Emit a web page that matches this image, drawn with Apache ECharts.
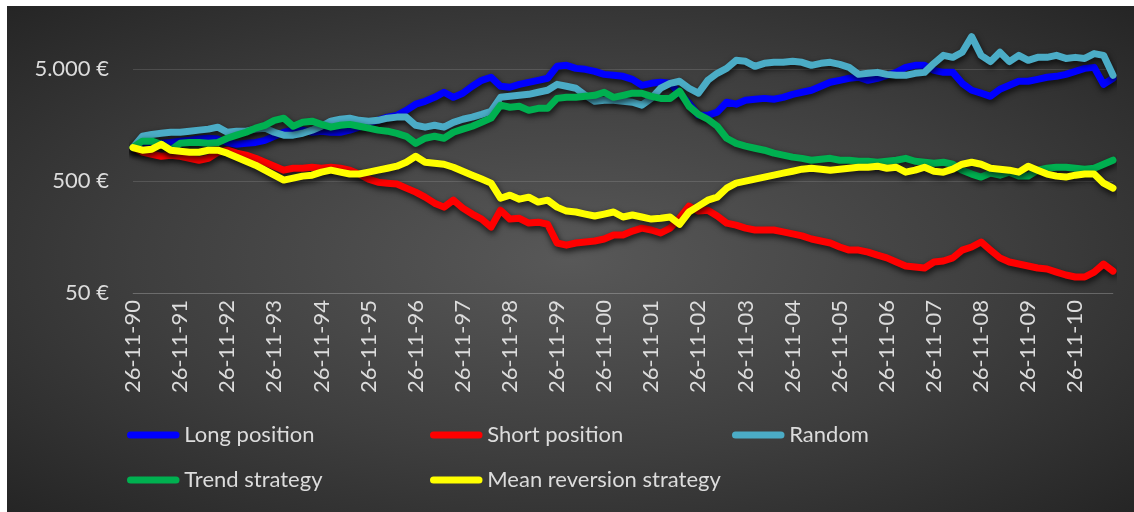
<!DOCTYPE html>
<html>
<head>
<meta charset="utf-8">
<title>Strategies</title>
<script src="https://cdn.jsdelivr.net/npm/echarts@6/dist/echarts.min.js"></script>
<style>
  html, body { margin: 0; background: #fff; }
  #chart {
    position: absolute; left: 7px; top: 6px; width: 1127px; height: 506px;
    background: radial-gradient(ellipse farthest-corner at 50% 50%, #585858 0%, #3e3e3e 55%, #252525 100%);
  }
</style>
</head>
<body>
<div id="chart"></div>
<script>
// one point every 73 days, starting 26-11-90
const seriesNames = ['Long position', 'Short position', 'Random', 'Trend strategy', 'Mean reversion strategy'];
const seriesColors = ['#0000ff', '#ff0000', '#4bacc6', '#00b050', '#ffff00'];
const yTicks = [50, 500, 5000];

const longPos = [1000,1050,1070,1090,1110,1140,1160,1190,1210,1190,
  1110,1070,1090,1110,1160,1260,1370,1430,1430,1370,
  1400,1370,1370,1430,1520,1650,1750,1870,1940,2150,
  2440,2590,2810,3120,2810,3060,3530,3990,4250,3530,
  3460,3670,3830,3990,4160,5320,5430,5100,5000,4800,
  4510,4420,4330,4070,3600,3750,3830,3750,3060,2490,
  1940,1940,2070,2540,2440,2650,2700,2750,2700,2810,
  2990,3120,3250,3530,3830,3990,4160,4250,3990,4160,
  4420,4700,5210,5430,5430,4900,4700,4700,3750,3250,
  3060,2870,3320,3600,3910,3910,4070,4250,4330,4510,
  4800,5100,5210,3670,4160];

const shortPos = [1000,908,871,836,854,836,802,770,802,908,
  946,890,854,802,739,681,627,652,652,666,
  652,666,652,627,579,522,490,480,471,433,
  399,360,318,293,338,287,254,229,194,275,
  229,233,211,215,206,140,134,140,143,146,
  152,165,165,179,190,183,172,190,233,299,
  270,275,244,211,202,190,183,183,183,176,
  169,162,152,146,140,129,121,121,116,109,
  103,94.6,87.2,85.4,83.6,94.6,96.6,103,121,129,
  143,121,103,94.6,90.8,87.2,83.6,81.9,76.9,72.4,
  69.5,69.5,76.9,90.8,78.5];

const randomPos = [1000,1260,1310,1340,1370,1370,1400,1430,1460,1520,
  1370,1400,1400,1460,1490,1370,1290,1290,1340,1430,
  1550,1720,1790,1830,1750,1720,1750,1830,1870,1870,
  1580,1520,1580,1520,1680,1790,1870,1980,2110,2810,
  2870,2930,2990,3120,3250,3670,3530,3390,2930,2590,
  2650,2650,2590,2540,2390,2750,3390,3750,3910,3390,
  3060,3990,4610,5100,6020,5900,5320,5660,5780,5780,
  5900,5780,5430,5660,5780,5540,5210,4510,4610,4700,
  4510,4420,4420,4610,4700,5660,6670,6400,7110,9800,
  6670,5860,7110,5860,6670,6020,6400,6400,6670,6260,
  6400,6260,6920,6670,4420];

const trend = [1000,1140,1140,1070,950,1090,1110,1110,1090,1110,
  1210,1290,1370,1490,1580,1750,1830,1550,1680,1720,
  1610,1520,1580,1610,1550,1490,1430,1400,1340,1260,
  1090,1210,1260,1210,1370,1460,1550,1680,1830,2390,
  2290,2340,2150,2240,2240,2750,2810,2810,2870,2930,
  3120,2810,2930,3060,3060,2870,2750,2750,3190,2340,
  1980,1790,1550,1210,1090,1030,985,946,890,854,
  820,800,770,785,800,770,770,754,754,739,
  754,770,800,754,739,724,739,709,627,579,
  544,590,566,602,555,555,627,652,666,666,
  652,640,652,709,770];

const meanRev = [1000,946,966,1070,946,927,908,908,946,946,
  890,820,754,695,627,566,511,533,555,566,
  602,627,602,579,579,602,627,652,681,739,
  836,739,724,709,666,614,566,522,480,352,
  375,345,360,325,338,293,270,265,254,244,
  254,265,239,249,239,229,233,239,206,265,
  299,338,360,433,480,500,522,544,566,590,
  614,640,652,640,627,640,652,666,666,681,
  652,666,602,627,666,614,602,640,709,739,
  709,652,640,627,602,681,627,579,555,544,
  566,579,579,480,433];

function pad(n) { return (n < 10 ? '0' : '') + n; }
const categories = [];
for (let y = 0; y <= 20; y++) {
  for (let k = 0; k < 5; k++) {
    const d = new Date(Date.UTC(1990 + y, 10, 26) + k * 73 * 86400000);
    categories.push(pad(d.getUTCDate()) + '-' + pad(d.getUTCMonth() + 1) + '-' + pad(d.getUTCFullYear() % 100));
  }
}

const allData = [longPos, shortPos, randomPos, trend, meanRev];
const font = 'Lato';
const textColor = '#dcdcdc';
const pill = 'path://M4,0H56A4,4,0,0,1,56,8H4A4,4,0,0,1,4,0Z';

function euro(v) {
  return String(Math.round(v)).replace(/\B(?=(\d{3})+(?!\d))/g, '.') + ' €';
}

// legend laid out as a 3-column grid, one legend per entry
const legendSpots = [[120, 418], [423, 418], [725, 418], [120, 463], [423, 463]];
const legends = seriesNames.map((name, i) => ({
  data: [name], left: legendSpots[i][0], top: legendSpots[i][1],
  icon: pill, itemWidth: 60, itemHeight: 7, padding: 0,
  textStyle: { color: textColor, fontSize: 22, fontFamily: font, padding: [0, 0, 0, -4] }
}));

const chart = echarts.init(document.getElementById('chart'));
chart.setOption({
  animation: false,
  backgroundColor: 'transparent',
  grid: { left: 126, top: 10, width: 980, height: 277 },
  legend: legends,
  xAxis: {
    type: 'category', data: categories, boundaryGap: false,
    axisLine: { lineStyle: { color: 'rgba(255,255,255,0.13)' } },
    axisTick: { show: false },
    axisLabel: { interval: 4, rotate: 90, margin: 7, color: textColor, fontSize: 22, fontFamily: font }
  },
  yAxis: {
    type: 'log', logBase: 10, min: 50, max: 15000,
    axisLine: { show: false },
    axisTick: { show: false, customValues: yTicks },
    axisLabel: { customValues: yTicks, margin: 24, color: textColor, fontSize: 22, fontFamily: font, formatter: euro },
    splitLine: { lineStyle: { color: 'rgba(255,255,255,0.13)', width: 1 } }
  },
  series: seriesNames.map((name, i) => ({
    name: name, type: 'line', data: allData[i], showSymbol: false, symbol: 'none',
    color: seriesColors[i],
    lineStyle: { width: 7, cap: 'round', join: 'round', color: seriesColors[i],
      shadowColor: 'rgba(0,0,0,0.75)', shadowBlur: 6, shadowOffsetX: 1, shadowOffsetY: 3 }
  }))
});
</script>
</body>
</html>
